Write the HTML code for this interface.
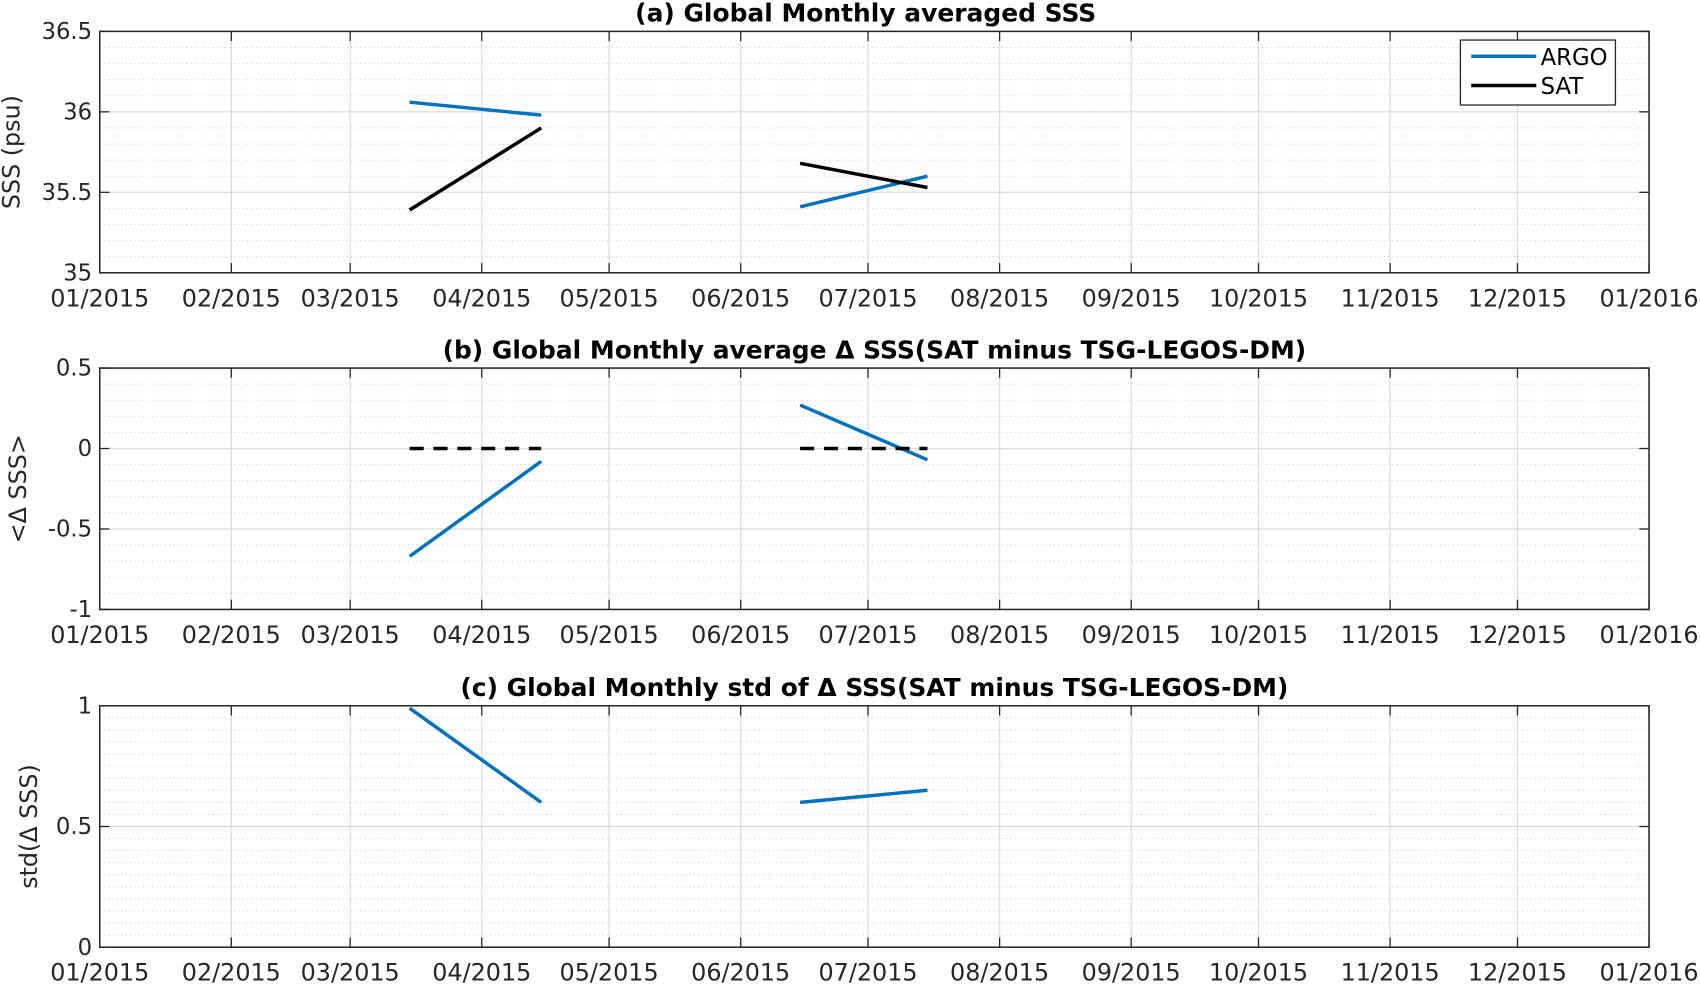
<!DOCTYPE html>
<html><head><meta charset="utf-8"><style>
html,body{margin:0;padding:0;background:#fff;}
svg{display:block;font-family:"DejaVu Sans","Liberation Sans",sans-serif;}
</style></head><body>
<svg id="chart" width="1700" height="984" viewBox="0 0 1568 909" preserveAspectRatio="none" xmlns="http://www.w3.org/2000/svg">
<rect width="1568" height="909" fill="#fff"/>
</svg>
<script>
const monthLabels=["01/2015","02/2015","03/2015","04/2015","05/2015","06/2015","07/2015","08/2015","09/2015","10/2015","11/2015","12/2015","01/2016"];
const monthDays=[0,31,59,90,120,151,181,212,243,273,304,334,365];
const dates=[73,104,165,195];
const argoSSS=[36.06,35.98,35.41,35.60];
const satSSS=[35.39,35.90,35.68,35.53];
const argoDelta=[-0.67,-0.08,0.27,-0.07];
const satDelta=[0,0,0,0];
const argoStd=[0.99,0.60,0.60,0.65];
const ticksA=[35,35.5,36,36.5];
const ticksB=[-1,-0.5,0,0.5];
const ticksC=[0,0.5,1];
const NS="http://www.w3.org/2000/svg";
const svg=document.getElementById('chart');
const X0=92,X1=1521;
function xs(d){return X0+(d/365)*(X1-X0);}
function mk(tag,attrs,parent){const e=document.createElementNS(NS,tag);for(const k in attrs)e.setAttribute(k,attrs[k]);(parent||svg).appendChild(e);return e;}
function panel(cfg){
  const g=mk('g',{});
  
  
  const ys=v=>cfg.y1-(v-cfg.min)/(cfg.max-cfg.min)*(cfg.y1-cfg.y0);
  for(let v=cfg.min;v<=cfg.max+1e-9;v+=cfg.minor){
    const l=mk('line',{x1:X0,x2:X1,y1:ys(v),y2:ys(v),stroke:'#c8c8c8','stroke-width':1,'stroke-dasharray':'1,3'},g);
    
    
  }
  cfg.ticks.forEach(t=>{
    const y=ys(t);
    const l=mk('line',{x1:X0,x2:X1,y1:y,y2:y,stroke:'#dcdcdc','stroke-width':1.2},g);
    
    
    mk('line',{x1:X0,x2:X0+9,y1:y,y2:y,stroke:'#262626','stroke-width':1.2},g);
    mk('line',{x1:X1,x2:X1-9,y1:y,y2:y,stroke:'#262626','stroke-width':1.2},g);
    const tx=mk('text',{x:X0-7,y:y+7,'text-anchor':'end','font-size':21,fill:'#262626'},g);
    tx.textContent=String(t);
    
    
  });
  monthDays.forEach((d,i)=>{
    const x=xs(d);
    const l=mk('line',{x1:x,x2:x,y1:cfg.y0,y2:cfg.y1,stroke:'#dcdcdc','stroke-width':1.2},g);
    
    
    mk('line',{x1:x,x2:x,y1:cfg.y1,y2:cfg.y1-9,stroke:'#262626','stroke-width':1.2},g);
    mk('line',{x1:x,x2:x,y1:cfg.y0,y2:cfg.y0+9,stroke:'#262626','stroke-width':1.2},g);
    const tx=mk('text',{x:x,y:cfg.y1+31,'text-anchor':'middle','font-size':22,fill:'#262626'},g);
    tx.textContent=monthLabels[i];
    
    
  });
  const fr=mk('rect',{x:X0,y:cfg.y0,width:X1-X0,height:cfg.y1-cfg.y0,fill:'none',stroke:'#262626','stroke-width':1.4},g);
  
  
  const t=mk('text',{x:(X0+X1)/2+(cfg.tdx||0),y:cfg.y0-9,'text-anchor':'middle','font-size':23,'font-weight':'bold',fill:'#000'},g);
  t.textContent=cfg.title;
  
  
  const yl=mk('text',{x:0,y:0,'text-anchor':'middle','font-size':22,fill:'#262626',transform:`translate(${cfg.ylx},${(cfg.y0+cfg.y1)/2}) rotate(-90)`},g);
  yl.textContent=cfg.ylabel;
  
  
  cfg.series.forEach(s=>{
    for(let k=0;k<s.vals.length;k+=2){
      const l=mk('line',{x1:xs(dates[k]),y1:ys(s.vals[k]),x2:xs(dates[k+1]),y2:ys(s.vals[k+1]),stroke:s.color,'stroke-width':3.2},g);
      if(s.dash)l.setAttribute('stroke-dasharray',s.dash);
      
      
    }
  });
}
panel({name:'panel-a-sss',y0:29,y1:252,min:35,max:36.5,minor:0.1,ticks:ticksA,title:'(a) Global Monthly averaged SSS',ylabel:'SSS (psu)',ylx:18,tdx:-8,
  series:[{name:'argo',vals:argoSSS,color:'#0072BD'},{name:'sat',vals:satSSS,color:'#000'}]});
panel({name:'panel-b-delta',y0:340,y1:563,min:-1,max:0.5,minor:0.1,ticks:ticksB,title:'(b) Global Monthly average \u0394 SSS(SAT minus TSG-LEGOS-DM)',ylabel:'<\u0394 SSS>',ylx:24,
  series:[{name:'argo',vals:argoDelta,color:'#0072BD'},{name:'sat',vals:satDelta,color:'#000',dash:'13,9'}]});
panel({name:'panel-c-std',y0:652,y1:875,min:0,max:1,minor:0.05,ticks:ticksC,title:'(c) Global Monthly std of \u0394 SSS(SAT minus TSG-LEGOS-DM)',ylabel:'std(\u0394 SSS)',ylx:34,
  series:[{name:'argo',vals:argoStd,color:'#0072BD'}]});
const lg=mk('g',{});


mk('rect',{x:1347,y:37,width:143,height:60,fill:'#fff',stroke:'#262626','stroke-width':1.2},lg);
mk('line',{x1:1357,x2:1417,y1:52,y2:52,stroke:'#0072BD','stroke-width':3.2},lg);
mk('line',{x1:1357,x2:1417,y1:79,y2:79,stroke:'#000','stroke-width':3.2},lg);
const la=mk('text',{x:1421,y:60,'font-size':21,fill:'#000'},lg);la.textContent='ARGO';


const ls=mk('text',{x:1421,y:87,'font-size':21,fill:'#000'},lg);ls.textContent='SAT';


</script>
</body></html>
